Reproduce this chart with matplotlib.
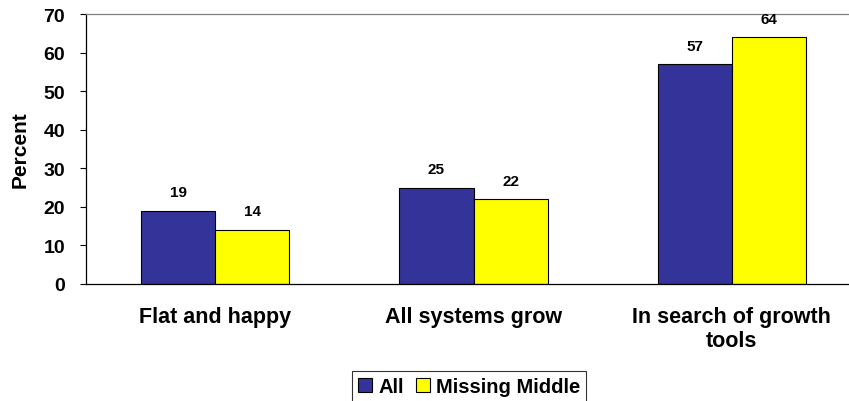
import matplotlib
matplotlib.use("Agg")
import matplotlib.pyplot as plt
import numpy as np

plt.rcParams['font.family'] = ['Liberation Sans', 'DejaVu Sans']

categories = ["Flat and happy", "All systems grow", "In search of growth\ntools"]
series_names = ["All", "Missing Middle"]
all_vals = [19, 25, 57]
mm_vals = [14, 22, 64]
yticks = [0, 10, 20, 30, 40, 50, 60, 70]

fig = plt.figure(figsize=(8.49, 4.02), dpi=100)
ax = fig.add_axes([86/849, (402-285)/402, 775/849, 270/402])

x = np.arange(len(categories))
w = 0.287
b1 = ax.bar(x - w/2, all_vals, w, color="#333399", edgecolor="black", linewidth=0.8, label=series_names[0])
b2 = ax.bar(x + w/2, mm_vals, w, color="#FFFF00", edgecolor="black", linewidth=0.8, label=series_names[1])

for bars, vals in ((b1, all_vals), (b2, mm_vals)):
    for r, v in zip(bars, vals):
        ax.text(r.get_x() + r.get_width()/2, v + 3.0, str(v), ha="center", va="bottom",
                fontsize=11, fontweight="bold")

ax.set_xlim(-0.5, 2.5)
ax.set_ylim(0, 70)
ax.set_yticks(yticks)
ax.set_yticklabels([str(t) for t in yticks], fontsize=14, fontweight="bold")
ax.set_xticks(x)
ax.set_xticklabels(categories, fontsize=15.5, fontweight="bold", linespacing=1.15)
ax.tick_params(axis="x", length=0, pad=16)
ax.tick_params(axis="y", length=4, width=0.8, direction="out", pad=11)
ax.set_ylabel("Percent", fontsize=15, fontweight="bold", labelpad=10)

ax.spines["left"].set_color("black")
ax.spines["bottom"].set_color("black")
ax.spines["top"].set_color("#808080")
ax.spines["right"].set_visible(False)
for s in ax.spines.values():
    s.set_linewidth(0.9)

leg = fig.legend(handles=[b1, b2], labels=series_names, loc="upper left",
                 bbox_to_anchor=(352/849, 1 - 372/402), ncol=2, frameon=True,
                 fancybox=False, edgecolor="black", handlelength=0.7, handleheight=0.7,
                 handletextpad=0.3, columnspacing=0.6, borderpad=0.3, borderaxespad=0,
                 prop={"weight": "bold", "size": 14.5})
leg.get_frame().set_linewidth(0.8)

fig.savefig("out.png", dpi=100)
